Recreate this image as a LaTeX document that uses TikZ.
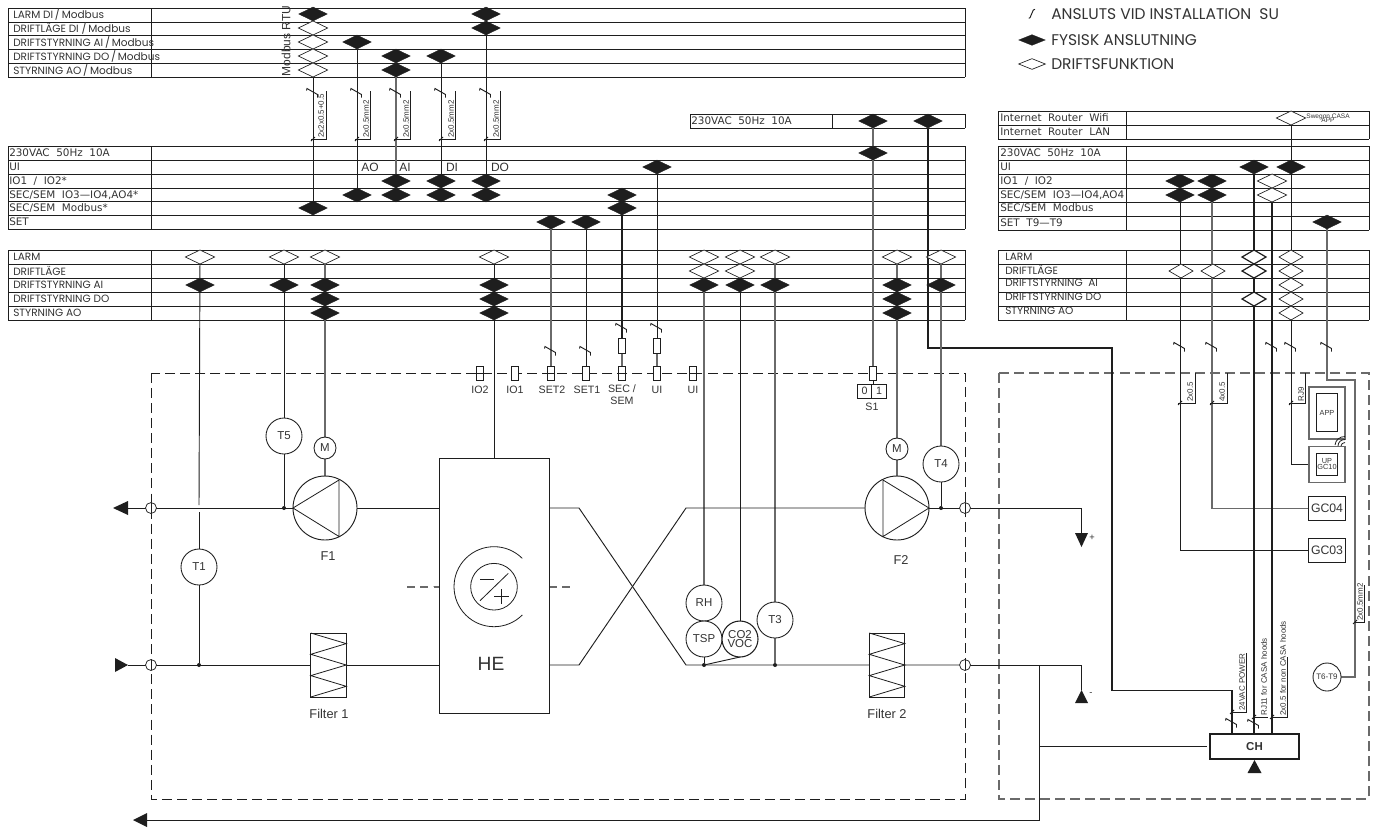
\documentclass[tikz,border=0pt]{standalone}
\usepackage{fontspec}
\setmainfont{Liberation Sans}
\newfontfamily\geo{Poppins}
\newfontfamily\tech{DejaVu Sans}
\usetikzlibrary{shapes.geometric,calc}
\pgfdeclarelayer{background}
\pgfsetlayers{background,main}
\definecolor{ink}{HTML}{1E1E1E}
\definecolor{txt}{HTML}{333333}
\definecolor{gline}{HTML}{6A6A6A}
\newcommand{\fsz}[1]{\fontsize{#1}{#1}\selectfont}
\newcommand{\rowtable}[4]{%
  \foreach \yy [count=\i] in {#4}{%
    \draw[tl] (#1,\yy) -- (#2,\yy);
    \ifnum\i=1 \xdef\ytop{\yy}\fi
    \xdef\ybot{\yy}%
  }%
  \draw[tl] (#1,\ytop) -- (#1,\ybot) (#3,\ytop) -- (#3,\ybot) (#2,\ytop) -- (#2,\ybot);
}
\newcommand{\wirebrk}[2]{%
  \draw[wire] ($(#1,#2)+(-6.5,-2.5)$) -- ($(#1,#2)+(-6,-4.5)$) -- ($(#1,#2)+(4.5,1.5)$) -- ($(#1,#2)+(4.5,4.5)$);
}
\newcommand{\portsym}[3]{%
  \node[port] (#1) at (#2,#3) {};
  \draw[thin1] (#1.north) -- (#1.south);
}
\newcommand{\filtsym}[2]{%
  \draw[thin1] ($(#1.north west)$) -- ($(#1.north east)+(0,10.6)$) -- ($(#1.north west)+(0,21.3)$) -- ($(#1.north east)+(0,32)$) -- ($(#1.north west)+(0,42.6)$) -- ($(#1.north east)+(0,53.3)$) -- (#1.south west);
}
\tikzset{
  x=0.75pt,y=-0.75pt,
  tl/.style={draw=ink,line width=0.72pt},
  wire/.style={draw=ink,line width=0.7pt},
  gwire/.style={draw=gline,line width=0.95pt},
  hwire/.style={draw=ink,line width=0.95pt},
  xwire/.style={draw=ink,line width=1.1pt},
  thin1/.style={draw=ink,line width=0.6pt},
  fd/.style={diamond,fill=ink,draw=ink,line width=0.2pt,minimum width=21.5pt,minimum height=10.5pt,inner sep=0pt,outer sep=0pt},
  od/.style={diamond,fill=white,draw=ink,line width=0.5pt,minimum width=22pt,minimum height=10.5pt,inner sep=0pt,outer sep=0pt},
  ods/.style={od,minimum width=18pt},
  odk/.style={od,minimum width=18pt,line width=0.9pt},
  geol/.style={anchor=west,inner sep=0pt,text=txt,font=\geo\fsz{7.9}},
  techl/.style={anchor=west,inner sep=0pt,text=txt,font=\tech\fsz{7.8}},
  lab/.style={inner sep=0pt,text=txt,font=\fsz{8}},
  small/.style={inner sep=0pt,text=txt,font=\fsz{6},rotate=90,anchor=west},
  legend/.style={anchor=west,inner sep=0pt,text=txt,font=\geo\fsz{11.6}},
  sens/.style={circle,draw=ink,line width=0.65pt,fill=white,minimum size=27pt,inner sep=0pt,outer sep=0pt,text=txt,font=\fsz{8.6}},
  motor/.style={sens,minimum size=16.5pt},
  fan/.style={circle,draw=ink,line width=0.7pt,fill=white,minimum size=48pt,inner sep=0pt,outer sep=0pt},
  port/.style={circle,draw=ink,line width=0.55pt,fill=white,minimum size=8.2pt,inner sep=0pt,outer sep=0pt},
  dotn/.style={circle,fill=ink,minimum size=3pt,inner sep=0pt,outer sep=0pt},
  term/.style={rectangle,draw=ink,line width=0.6pt,fill=white,minimum width=5.2pt,minimum height=11pt,inner sep=0pt,outer sep=0pt},
  boxn/.style={rectangle,draw=ink,line width=0.75pt,fill=white,inner sep=0pt,outer sep=0pt,text=txt},
  dashbox/.style={draw=ink,line width=0.65pt,dash pattern=on 7.5pt off 3.8pt},
  dashboxg/.style={draw=gline,line width=0.9pt,dash pattern=on 7.5pt off 3.8pt},
}
\begin{document}
\begin{tikzpicture}
\useasboundingbox (0,0) rectangle (1383,829);
\begin{pgfonlayer}{background}
\rowtable{8}{965}{151}{8,22,35,49,63,77}
\rowtable{8}{965}{151}{146,160,174,188,201,215,229}
\rowtable{8}{965}{151}{250,264,278,292,306,320}
\rowtable{690}{965}{832}{114,128}
\rowtable{998}{1369}{1126}{111,125,139}
\rowtable{998}{1369}{1126}{146,160,174,188,202,216,230}
\rowtable{998}{1369}{1126}{250,264,278,292,306,320}
\draw[dashbox] (151,373) rectangle (965,799);
\draw[dashboxg] (999,373) rectangle (1369,799);
\end{pgfonlayer}

% table labels
\foreach \y/\t [count=\i] in {14.5/{LARM DI\,/\,Modbus},28.5/{DRIFTLÄGE DI /\,Modbus},42/{DRIFTSTYRNING AI\,/\,Modbus},56/{DRIFTSTYRNING DO\,/\,Modbus},70/{STYRNING AO\,/\,Modbus}}
  \node[geol] (ta\i) at (13,\y) {\t};
\foreach \y/\t [count=\i] in {153/{230VAC~~50Hz~~10A},167/{UI},181/{IO1~~/~~IO2*},195/{SEC/SEM~~IO3—IO4,AO4*},208/{SEC/SEM~~Modbus*},222/{SET}}
  \node[techl] (tb\i) at (9,\y) {\t};
\foreach \y/\t [count=\i] in {257/{LARM},271/{DRIFTLÄGE},285/{DRIFTSTYRNING AI},299/{DRIFTSTYRNING DO},313/{STYRNING AO}}
  \node[geol] (tc\i) at (13,\y) {\t};
\foreach \y/\t [count=\i] in {257/{LARM},270/{DRIFTLÄGE},283/{DRIFTSTYRNING~~AI},297/{DRIFTSTYRNING DO},311/{STYRNING AO}}
  \node[geol] (te\i) at (1005,\y) {\t};
\node[techl] (tf) at (691,121) {230VAC~~50Hz~~10A};
\foreach \y/\t [count=\i] in {118/{Internet~~Router~~Wifi},132/{Internet~~Router~~LAN},153/{230VAC~~50Hz~~10A},167/{UI},181/{IO1~~/~~IO2},195/{SEC/SEM~~IO3—IO4,AO4},208/{SEC/SEM~~Modbus},223/{SET~~T9—T9}}
  \node[techl] (td\i) at (1000,\y) {\t};
\node[lab,rotate=90,font=\fsz{9}] (mrtu) at (286,41) {Modbus RTU};
\foreach \x/\t [count=\i] in {370/AO,405/AI,452/DI,500/DO}
  \node[lab,font=\fsz{9}] (ui\i) at (\x,167) {\t};
\node[lab,font=\fsz{4.9},align=center] (casa) at (1328,118) {Swegon CASA\\[-1.5pt]APP};

% legend
\node[legend] (lg1) at (1051,14) {ANSLUTS VID INSTALLATION~~SU};
\node[legend] (lg2) at (1051,40) {FYSISK ANSLUTNING};
\node[legend] (lg3) at (1051,64) {DRIFTSFUNKTION};
\node[fd,minimum width=20pt,minimum height=8pt] (lgf) at (1032,40) {};
\node[od,minimum width=20pt,minimum height=8pt] (lgo) at (1032,64) {};
\draw[wire] (1028.7,18.3) -- (1030,17.7) -- (1033.3,10) -- (1035,9.3);

% diamonds
\foreach \x/\y in {313/14,486/14,486/28,357/42,396/56,396/70,441/56,
  396/181,441/181,486/181,357/195,396/195,441/195,486/195,622/195,313/208,622/208,551/222,586/222,657/167,873/153,873/121,928/121,
  200/285,284/285,325/285,325/299,325/313,494/285,494/299,494/313,704/285,740/285,775/285,897/285,897/299,897/313,941/285,
  1254/167,1291/167,1180/181,1212/181,1180/195,1212/195,1327/222}
  \node[fd] (f\x x\y) at (\x,\y) {};
\foreach \x/\y in {313/28,313/42,313/56,313/70,200/257,284/257,325/257,494/257,704/257,704/271,740/257,740/271,775/257,897/257,941/257,1291/118,1272/181,1272/195}
  \node[od] (o\x x\y) at (\x,\y) {};
\foreach \x/\y in {1181/271,1213/271,1291/257,1291/271,1291/285,1291/299,1291/313}
  \node[ods] (o\x x\y) at (\x,\y) {};
\foreach \y in {257,271,299}
  \node[odk] (k\y) at (1254,\y) {};

% terminals on the dashed line
\foreach \x/\n in {480/tIOa,515/tIOb,551/tSa,586/tSb,622/tSEC,657/tUIa,693/tUIb,873/tSone}
  \node[term] (\n) at (\x,373.5) {};
\foreach \n in {tIOa,tSa,tSEC,tUIb} \draw[thin1] (\n.west) -- (\n.east);
\node[term] (uSEC) at (622,346) {};
\node[term] (uUI) at (657,346) {};
\foreach \x/\t/\n in {480/IO2/lIOa,515/IO1/lIOb,552/SET2/lSa,587/SET1/lSb,657/UI/lUa,693/UI/lUb}
  \node[lab] (\n) at (\x,390) {\t};
\node[lab,align=center] (lSEC) at (622,395) {SEC /\\[1pt]SEM};
\node[boxn,minimum width=10.9pt,minimum height=10.5pt] (s0) at (864.5,391) {\fsz{8}0};
\node[boxn,minimum width=10.9pt,minimum height=10.5pt] (s1) at (879,391) {\fsz{8}1};
\node[lab] (lS1) at (872,407) {S1};

% equipment
\node[boxn,minimum width=82.5pt,minimum height=191.25pt] (HE) at (494,585.5) {};
\node[lab,font=\fsz{14.4}] (lHE) at (491,664) {HE};
\node[circle,draw=ink,line width=0.6pt,minimum size=35pt,inner sep=0pt,outer sep=0pt] (HEi) at (494,586.7) {};
\draw[thin1] (522.3,558.4) arc[start angle=45,end angle=315,radius=30pt];
\draw[thin1] (480,600.7) -- (508.3,573.3);
\draw[thin1] (480,579.3) -- (494,579.3);
\draw[thin1] (494.4,596.7) -- (509,596.7) (501.7,589.4) -- (501.7,604);

\node[fan] (Fa) at (325,508) {};
\draw[thin1] (339,480) -- (293,508) -- (339,536.5) -- cycle;
\node[fan] (Fb) at (897,508) {};
\draw[thin1] (883,480) -- (929,508) -- (883,536.5) -- cycle;
\node[lab,font=\fsz{9.6}] (lFa) at (328,556) {F1};
\node[lab,font=\fsz{9.6}] (lFb) at (901,560) {F2};

\node[boxn,minimum width=26.6pt,minimum height=48pt] (Fta) at (328.5,665) {};
\filtsym{Fta}{}
\node[boxn,minimum width=26.6pt,minimum height=48pt] (Ftb) at (887,665) {};
\filtsym{Ftb}{}
\node[lab,font=\fsz{9.6}] (lFta) at (329,714) {Filter 1};
\node[lab,font=\fsz{9.6}] (lFtb) at (887,714) {Filter 2};

\node[sens] (Tone) at (199,567) {T1};
\node[sens] (Tfive) at (284,436) {T5};
\node[motor] (Ma) at (325,448) {M};
\node[motor] (Mb) at (897,449) {M};
\node[sens] (Tfour) at (941,464) {T4};
\node[sens] (RH) at (704,603) {RH};
\node[sens] (TSP) at (704,639) {TSP};
\node[sens,align=center,line width=0.8pt] (COV) at (740,639) {CO2\\[-2pt]VOC};
\node[sens] (Tthree) at (775,620) {T3};
\node[sens,minimum size=21pt,font=\fsz{6}] (Tsix) at (1327,677) {T6-T9};

\portsym{pa}{151}{508}
\portsym{pb}{151}{665}
\portsym{pc}{965}{508}
\portsym{pd}{965}{665}
\foreach \x/\y/\n in {199/665/da,284/508/db,704/665/dc,775/665/dd,941/508/de}
  \node[dotn] (\n) at (\x,\y) {};

% arrows
\fill[ink] (113,508) -- (128,501) -- (128,515) -- cycle;
\fill[ink] (128,665) -- (115,658) -- (115,672) -- cycle;
\fill[ink] (1081.5,547) -- (1075,533) -- (1088,533) -- cycle;
\fill[ink] (1081.5,690) -- (1075,703) -- (1088,703) -- cycle;
\fill[ink] (133,820) -- (147,813) -- (147,827) -- cycle;
\coordinate (aa) at (128,508);
\coordinate (ab) at (128,665);
\coordinate (ac) at (1081.5,533);
\coordinate (ad) at (1081.5,690);
\coordinate (ae) at (147,820);
\node[lab,font=\fsz{7}] (plus) at (1092,538) {+};
\node[lab,font=\fsz{7}] (minus) at (1091,694) {-};

% right side boxes
\node[boxn,minimum width=27.5pt,minimum height=18.5pt,font=\fsz{9.2}] (GCd) at (1327,508.5) {GC04};
\node[boxn,minimum width=27.5pt,minimum height=18.5pt,font=\fsz{9.2}] (GCc) at (1327,550.5) {GC03};
\node[boxn,minimum width=27pt,minimum height=39pt,line width=0.9pt,draw=gline] (APo) at (1327,413) {};
\node[boxn,minimum width=16.3pt,minimum height=29pt,font=\fsz{5.5}] (APi) at (1327,412.5) {APP};
\node[boxn,minimum width=27pt,minimum height=26.5pt,line width=0.9pt,draw=gline] (UPo) at (1327,464.5) {};
\node[boxn,minimum width=16.3pt,minimum height=16.5pt,font=\fsz{5.5},align=center] (UPi) at (1327,464) {UP\\[-1pt]GC10};
\draw[thin1] (1341,446) .. controls (1341,444) and (1343,442.5) .. (1345,442.5);
\draw[thin1] (1338,446) .. controls (1338,442) and (1341,439.5) .. (1345,439.5);
\draw[thin1] (1335,445) .. controls (1335.5,440) and (1339.5,436.5) .. (1345,436.5);
\node[boxn,minimum width=66.8pt,minimum height=18.7pt,line width=0.9pt,font=\bfseries\fsz{8.6}] (CH) at (1254.5,746.5) {CH};
\fill[ink] (1254.5,760) -- (1247.5,773) -- (1261.5,773) -- cycle;

\coordinate (ka) at (1112,348);
\coordinate (kb) at (1232,690.5);
\coordinate (kc) at (1355,380);
\coordinate (kd) at (1207,746.5);
\coordinate (ke) at (1039,665);
\coordinate (kf) at (1039,746.5);
\coordinate (kg) at (1039,820);
\coordinate (kh) at (352,508);
\coordinate (gt) at (199,505);
\coordinate (gb) at (199,512);

\begin{pgfonlayer}{background}
% upper wires
\draw[wire] (f313x14) -- (o313x70) -- (f313x208);
\draw[wire] (f357x42) -- (f357x195);
\draw[gwire] (f396x56) -- (f396x195);
\draw[wire] (f441x56) -- (f441x195);
\draw[wire] (f486x14) -- (f486x195);
\draw[gwire] (f551x222) -- (tSa.north);
\draw[wire] (f586x222) -- (tSb.north);
\draw[hwire] (f622x195) -- (uSEC.north);
\draw[gwire] (uSEC.south) -- (tSEC.north);
\draw[wire] (f657x167) -- (uUI.north);
\draw[gwire] (uUI.south) -- (tUIa.north);
\draw[gwire] (f873x121) -- (tSone.north);
\draw[wire] (tSone.south) -- (tSone.south |- s0.north);
\draw[xwire] (f928x121) |- (ka) |- (kb) -- (kb |- CH.north);
% from the function table to the units
\draw[wire] (o200x257) -- (gt);
\draw[wire] (gb) -- (Tone.north);
\draw[wire] (Tone.south) -- (da);
\draw[wire] (o284x257) -- (Tfive.north);
\draw[wire] (Tfive.south) -- (db);
\draw[gwire] (o325x257) -- (Ma.north);
\draw[gwire] (Ma.south) -- (Fa.north);
\draw[wire] (o494x257) -- (HE.north);
\draw[gwire] (o704x257) -- (RH.north);
\draw[wire] (RH.south) -- (TSP.north);
\draw[wire] (TSP.south) -- (dc);
\draw[wire] (o740x257) -- (COV.north);
\draw[wire] (COV.south) -- (dc);
\draw[gwire] (o775x257) -- (Tthree.north);
\draw[gwire] (Tthree.south) -- (dd);
\draw[gwire] (o897x257) -- (Mb.north);
\draw[gwire] (Mb.south) -- (Fb.north);
\draw[gwire] (o941x257) -- (Tfour.north);
\draw[wire] (Tfour.south) -- (de);
% ducts
\draw[wire] (aa) -- (Fa.west);
\draw[wire] (kh) -- (HE.west |- kh);
\draw[wire] (ab) -- (HE.west |- ab);
\draw[wire] (HE.east |- kh) -- (579,508) -- (686,665) -- (pd);
\draw[wire] (HE.east |- ab) -- (579,665) -- (686,508) -- (Fb.west);
\draw[wire] (Fb.east) -- (pc);
\draw[wire] (pc) -| (ac);
\draw[wire] (pd) -| (ad);
\draw[wire] (ke) -- (kg) -- (ae);
\draw[hwire] (kf) -- (kd);
% right hand wires
\draw[wire] (o1291x118) |- (UPi.west);
\draw[wire] (f1180x181) |- (GCc.west);
\draw[gwire] (f1212x181) |- (GCd.west);
\draw[hwire] (f1254x167) -- (f1254x167 |- CH.north);
\draw[hwire] (o1272x181) -- (o1272x181 |- CH.north);
\draw[gwire] (f1327x222) |- (kc) |- (Tsix.east);
% brackets
\foreach \x/\o in {313/13,357/13,396/14,441/14,486/14}{
  \draw[thin1] (\x-2,139) -- (\x+\o,139) -- (\x+\o,91);
  \draw[thin1] (\x-2,141) -- (\x+2,137);
  \wirebrk{\x}{93}
}
\foreach \x/\o in {1180/15,1212/15,1291/14}{
  \draw[thin1] (\x-2,403) -- (\x+\o,403) -- (\x+\o,373);
  \draw[thin1] (\x-2,405) -- (\x+2,401);
}
\draw[thin1] (1232,712) -- (1246,712) -- (1246,653);
\draw[thin1] (1230,714) -- (1234,710);
\draw[thin1] (1254,717) -- (1268,717);
\draw[thin1] (1252,719) -- (1256,715);
\draw[thin1] (1272,717) -- (1287,717) -- (1287,657);
\draw[thin1] (1270,719) -- (1274,715);
\draw[thin1] (1355,622) -- (1364,622) -- (1364,585);
\draw[thin1] (1353,624) -- (1357,620);
\foreach \x/\y in {551/351,586/351,622/328,657/328,1180/347,1212/347,1272/347,1291/347,1327/347,1232/723,1254/724}
  \wirebrk{\x}{\y}
% inner dashes of the exchanger
\draw[gwire,dash pattern=on 6pt off 4pt] (407,587) -- (439,587) (549,587) -- (573,587);
\end{pgfonlayer}

% cable sizes
\node[small] (ca) at (321,138) {2x2x0.5+0.5};
\node[small] (cb) at (366,138) {2x0.5mm2};
\node[small] (cc) at (406,138) {2x0.5mm2};
\node[small] (cd) at (451,138) {2x0.5mm2};
\node[small] (ce) at (496,138) {2x0.5mm2};
\node[small] (cf) at (1190,402) {2x0.5};
\node[small] (cg) at (1222,402) {4x0.5};
\node[small] (ch) at (1301,402) {RJ9};
\node[small] (ci) at (1242,711) {24VAC POWER};
\node[small] (cj) at (1264,716) {RJ11 for CASA hoods};
\node[small] (ck) at (1283,716) {2x0.5 for non CASA hoods};
\node[small] (cl) at (1360,621) {2x0.5mm2};
\end{tikzpicture}
\end{document}
